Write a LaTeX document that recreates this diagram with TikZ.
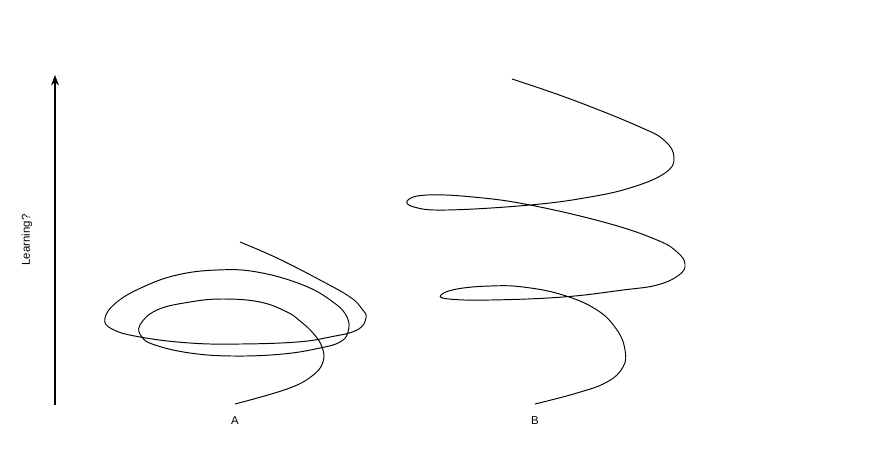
\documentclass[tikz,border=0pt]{standalone}
\usepackage{fontspec}
\setmainfont{Liberation Sans}
\usepackage{xcolor}
\definecolor{inkblack}{HTML}{000000}
\usepackage{tikz}
\usetikzlibrary{arrows.meta,positioning}
\tikzset{
  spiral/.style={draw=inkblack, line width=0.55pt, smooth, tension=0.7},
  axisline/.style={draw=inkblack, line width=0.6pt, -{Stealth[length=6pt,width=4.5pt]}},
  caselabel/.style={font=\fontsize{6.5}{8}\selectfont, inner sep=0pt, text=inkblack},
}

\begin{document}
\begin{tikzpicture}[x=0.02cm, y=-0.02cm]
  \useasboundingbox (0,0) rectangle (884,450);
  % axis
  \coordinate (ybot) at (55,405);
  \coordinate (ytop) at (55,75);
  \draw[axisline] (ybot) -- (ytop);
  \node[caselabel, rotate=90] (ylab) at (27,240) {Learning?};
  % case A: going round in circles
  \draw[spiral] plot coordinates {
    (235,404) (287,389) (312,376) (323,362) (322,347) (313,333) (300,321)
    (287,312) (260,302) (223,299) (190,302) (157,310) (140,325) (142,337)
    (155,345) (190,353) (233,356) (283,354) (320,348) (340,342) (348,332)
    (347,317) (333,302) (303,285) (257,272) (217,270) (177,275) (143,287)
    (117,302) (105,318) (112,329) (140,337) (190,343) (240,344) (297,342)
    (330,337) (357,330) (366,318) (362,309) (350,297) (320,280) (277,258)
    (240,242)};
  \node[caselabel] (labA) at (235,421) {A};
  % case B: spiralling upwards
  \draw[spiral] plot coordinates {
    (535,404) (577,393) (607,382) (623,367) (625,350) (617,330) (597,310)
    (563,295) (523,287) (490,286) (457,289) (441,295) (449,299) (490,300)
    (563,297) (623,290) (657,285) (679,275) (685,264) (677,252) (657,240)
    (607,223) (530,205) (473,197) (427,195) (408,200) (414,207) (447,210)
    (530,205) (590,197) (633,187) (665,173) (674,158) (665,141) (640,127)
    (573,100) (512,79)};
  \node[caselabel] (labB) at (535,421) {B};
\end{tikzpicture}
\end{document}
